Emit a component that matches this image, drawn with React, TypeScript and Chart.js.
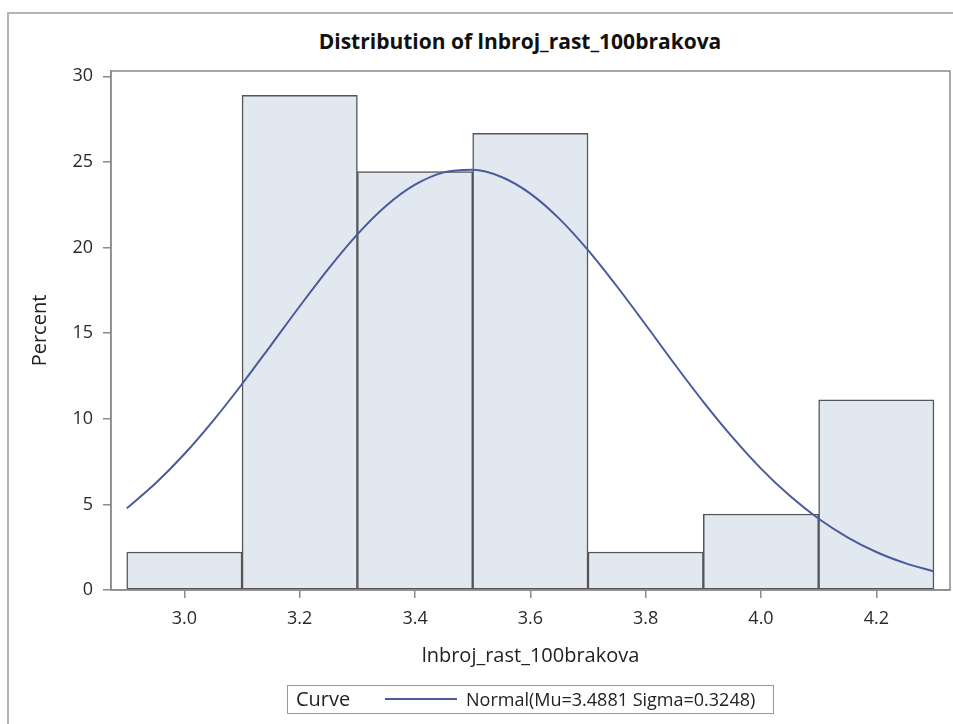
import { Chart, registerables } from 'chart.js';
import { useEffect, useRef } from 'react';

Chart.register(...registerables);

// histogram bins (width 0.2), centres and percent per bin
const binCenters = [3.0, 3.2, 3.4, 3.6, 3.8, 4.0, 4.2];
const binPercent = [2.22, 28.89, 24.44, 26.67, 2.22, 4.44, 11.11];

// fitted normal curve
const curveX = [
    2.9, 2.95, 3.0, 3.05, 3.1, 3.15, 3.2, 3.25, 3.3, 3.35, 3.4, 3.45, 3.5, 3.55, 3.6,
    3.65, 3.7, 3.75, 3.8, 3.85, 3.9, 3.95, 4.0, 4.05, 4.1, 4.15, 4.2, 4.25, 4.3,
];
const curveY = [
    4.77, 6.23, 7.94, 9.89, 12.03, 14.29, 16.57, 18.77, 20.77, 22.44, 23.67, 24.39, 24.54, 24.12, 23.15,
    21.69, 19.85, 17.74, 15.49, 13.2, 10.99, 8.94, 7.09, 5.5, 4.16, 3.08, 2.22, 1.57, 1.08,
];

const xTicks = [3.0, 3.2, 3.4, 3.6, 3.8, 4.0, 4.2];
const yTicks = [0, 5, 10, 15, 20, 25, 30];

const FONT = "'Open Sans', 'Noto Sans', sans-serif";
const AXIS_GRAY = '#8a8a8a';
const CURVE_COLOR = '#4b5a9c';

const frame = {
    id: 'frame',
    afterDatasetsDraw(chart: Chart) {
        const { ctx, chartArea: a } = chart;
        ctx.save();
        ctx.strokeStyle = AXIS_GRAY;
        ctx.lineWidth = 1.5;
        ctx.strokeRect(a.left, a.top, a.right - a.left, a.bottom - a.top);
        ctx.restore();
    },
};

function Histogram() {
    const canvasRef = useRef<HTMLCanvasElement>(null);
    const chartRef = useRef<Chart | null>(null);

    useEffect(() => {
        if (!canvasRef.current) return;
        if (chartRef.current) chartRef.current.destroy();

        chartRef.current = new Chart(canvasRef.current, {
            type: 'bar',
            data: {
                datasets: [
                    {
                        type: 'line',
                        label: 'Normal',
                        data: curveX.map((x, i) => ({ x, y: curveY[i] })),
                        borderColor: CURVE_COLOR,
                        borderWidth: 2,
                        pointRadius: 0,
                        cubicInterpolationMode: 'monotone',
                        order: 0,
                    } as any,
                    {
                        type: 'bar',
                        label: 'Percent',
                        data: binCenters.map((x, i) => ({ x, y: binPercent[i] })),
                        backgroundColor: '#e2e8f0',
                        borderColor: '#555555',
                        borderWidth: 1.5,
                        borderSkipped: false,
                        barPercentage: 1,
                        categoryPercentage: 1,
                        order: 1,
                    } as any,
                ],
            },
            options: {
                responsive: true,
                maintainAspectRatio: false,
                animation: false,
                layout: { padding: { top: 71, right: 3, left: 0, bottom: 0 } },
                plugins: {
                    legend: { display: false },
                    tooltip: { enabled: false },
                    title: { display: false },
                },
                scales: {
                    x: {
                        type: 'linear',
                        offset: false,
                        min: 2.8727,
                        max: 4.3278,
                        afterBuildTicks: (s: any) => { s.ticks = xTicks.map(v => ({ value: v })); },
                        afterFit: (s: any) => { s.height = 134; },
                        ticks: {
                            font: { family: FONT, size: 18 },
                            color: '#2a2a2a',
                            padding: 10,
                            maxRotation: 0,
                            callback: (v: any) => Number(v).toFixed(1),
                        },
                        grid: {
                            display: true,
                            drawOnChartArea: false,
                            drawTicks: true,
                            offset: false,
                            tickLength: 8,
                            color: AXIS_GRAY,
                            lineWidth: 1.5,
                        },
                        border: { display: true, color: AXIS_GRAY, width: 1.5 },
                        title: {
                            display: true,
                            text: 'lnbroj_rast_100brakova',
                            font: { family: FONT, size: 20 },
                            color: '#222',
                            padding: { top: 0, bottom: 56 },
                        },
                    },
                    y: {
                        min: 0,
                        max: 30.31,
                        afterBuildTicks: (s: any) => { s.ticks = yTicks.map(v => ({ value: v })); },
                        afterFit: (s: any) => { s.width = 111; },
                        ticks: {
                            font: { family: FONT, size: 18 },
                            color: '#2a2a2a',
                            padding: 10,
                        },
                        grid: {
                            display: true,
                            drawOnChartArea: false,
                            drawTicks: true,
                            tickLength: 8,
                            color: AXIS_GRAY,
                            lineWidth: 1.5,
                        },
                        border: { display: true, color: AXIS_GRAY, width: 1.5 },
                        title: {
                            display: true,
                            text: 'Percent',
                            font: { family: FONT, size: 20 },
                            color: '#222',
                            padding: { top: 28, bottom: 0 },
                        },
                    },
                },
            },
            plugins: [frame],
        });

        return () => {
            if (chartRef.current) {
                chartRef.current.destroy();
                chartRef.current = null;
            }
        };
    }, []);

    return <canvas ref={canvasRef} />;
}

export default function App() {
    return (
        <div style={{ position: 'absolute', left: 0, top: 0, width: 953, height: 724, overflow: 'hidden', fontFamily: FONT, background: '#fff' }}>
            {/* outer figure border, only left and top edges are in view */}
            <div style={{ position: 'absolute', left: 7, top: 12, width: 1100, height: 900, border: '2px solid #b4b4b4' }} />
            <div style={{ position: 'absolute', left: 0, top: 28, width: 1040, textAlign: 'center', fontSize: 21, lineHeight: '26px', fontWeight: 700, color: '#111' }}>
                Distribution of lnbroj_rast_100brakova
            </div>
            <div style={{ position: 'absolute', left: 0, top: 0, width: 953, height: 724 }}>
                <Histogram />
            </div>
            <div style={{ position: 'absolute', left: 287, top: 685, width: 487, height: 29, boxSizing: 'border-box', border: '1.5px solid #9a9a9a', color: '#222' }}>
                <span style={{ position: 'absolute', left: 8, top: 0, fontSize: 20, lineHeight: '26px' }}>Curve</span>
                <span style={{ position: 'absolute', left: 97, top: 12, width: 72, height: 2, background: CURVE_COLOR }} />
                <span style={{ position: 'absolute', left: 178, top: 0, fontSize: 18, lineHeight: '26px' }}>Normal(Mu=3.4881 Sigma=0.3248)</span>
            </div>
        </div>
    );
}
